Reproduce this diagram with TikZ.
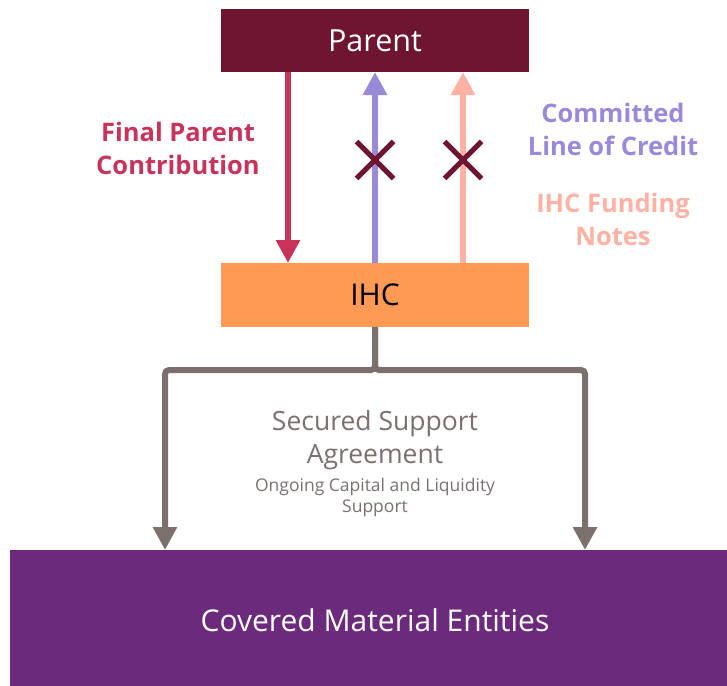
\documentclass[tikz,border=0pt]{standalone}
\usepackage{fontspec}
\setmainfont{Open Sans}
\usetikzlibrary{arrows.meta,shapes.misc}
\definecolor{parentc}{HTML}{6E1631}
\definecolor{redc}{HTML}{C8335B}
\definecolor{purc}{HTML}{9A89D8}
\definecolor{pinkc}{HTML}{FFB1A3}
\definecolor{ihcc}{HTML}{FF9A55}
\definecolor{grayc}{HTML}{7B706E}
\definecolor{cmec}{HTML}{6C2A7C}
\tikzset{
  box/.style={inner sep=0pt, outer sep=0pt, draw=none},
  flow/.style={line width=6pt, -{Triangle[width=23pt,length=23pt]}},
  xmark/.style={cross out, draw=parentc, line width=5pt, minimum size=32pt, inner sep=0pt},
  lbl/.style={font=\fontsize{25.5}{33}\selectfont\bfseries, align=center, inner sep=0pt},
}
\begin{document}
\begin{tikzpicture}[x=1pt,y=-1pt]
\useasboundingbox (0,0) rectangle (727,685);
\node[box, fill=parentc, minimum width=308pt, minimum height=63pt, text=white,
      font=\fontsize{30.5}{32}\selectfont] (parent) at (375,40.5) {Parent};
\node[box, fill=ihcc, minimum width=308pt, minimum height=64pt, text=black,
      font=\fontsize{30}{32}\selectfont] (ihc) at (375,295) {IHC};
\node[box, fill=cmec, minimum width=730pt, minimum height=140pt, text=white,
      font=\fontsize{30}{32}\selectfont] (cme) at (375,620) {Covered Material Entities};

\draw[flow, redc] ([xshift=-87pt]parent.south) -- ([xshift=-87pt]ihc.north);
\draw[flow, purc] (ihc.north) -- (parent.south);
\draw[flow, pinkc] ([xshift=88pt]ihc.north) -- ([xshift=88pt]parent.south);

\node[xmark] (x1) at (375,160) {};
\node[xmark] (x2) at (463,160) {};

\draw[flow, grayc, rounded corners=4pt] (ihc.south) -- ++(0,43) -| ([xshift=-210pt]cme.north);
\draw[flow, grayc, rounded corners=4pt] (ihc.south) -- ++(0,43) -| ([xshift=210pt]cme.north);

\node[lbl, text=redc] (fpc) at (178,148) {Final Parent\\Contribution};
\node[lbl, text=purc] (clc) at (613,129) {Committed\\Line of Credit};
\node[lbl, text=pinkc] (ifn) at (613,219) {IHC Funding\\Notes};

\node[text=grayc, align=center, inner sep=0pt, font=\fontsize{26.5}{33}\selectfont] (ssa) at (375,440) {Secured Support\\Agreement};
\node[text=grayc, align=center, inner sep=0pt, font=\fontsize{17.5}{21}\selectfont] (ocl) at (375,497) {Ongoing Capital and Liquidity\\Support};
\end{tikzpicture}
\end{document}
